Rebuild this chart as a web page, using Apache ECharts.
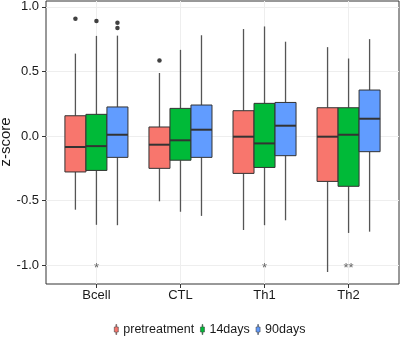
<!DOCTYPE html>
<html>
<head>
<meta charset="utf-8">
<script src="https://cdn.jsdelivr.net/npm/echarts@6/dist/echarts.min.js"></script>
<style>
  html, body { margin: 0; padding: 0; background: #fff; }
  #chart { width: 400px; height: 337px; }
</style>
</head>
<body>
<div id="chart"></div>
<script>
const categories = ["Bcell", "CTL", "Th1", "Th2"];
const groups = ["pretreatment", "14days", "90days"];
const colors = ["#F8766D", "#00BA38", "#619CFF"];

// [lower whisker, Q1, median, Q3, upper whisker] per category
const pretreatment = [
  [-0.57, -0.278, -0.085, 0.157, 0.638],
  [-0.505, -0.25, -0.067, 0.07, 0.488],
  [-0.727, -0.289, -0.005, 0.196, 0.828],
  [-1.052, -0.351, -0.005, 0.219, 0.688]
];
const days14 = [
  [-0.687, -0.266, -0.078, 0.168, 0.775],
  [-0.586, -0.187, -0.033, 0.214, 0.667],
  [-0.69, -0.243, -0.057, 0.253, 0.848],
  [-0.75, -0.389, 0.01, 0.219, 0.6]
];
const days90 = [
  [-0.69, -0.165, 0.01, 0.225, 0.777],
  [-0.618, -0.165, 0.049, 0.24, 0.78],
  [-0.652, -0.152, 0.08, 0.26, 0.73],
  [-0.74, -0.121, 0.134, 0.356, 0.75]
];

// outliers: [category index, value]
const outPretreatment = [[0, 0.907], [1, 0.584]];
const out14days = [[0, 0.89]];
const out90days = [[0, 0.876], [0, 0.837]];

const signif = ["*", "", "*", "**"];
const yTicks = [-1, -0.5, 0, 0.5, 1];

const FONT = "'Liberation Sans', Arial, sans-serif";
const DODGE = 0.25; // each box is a quarter of a category unit
// tiny boxplot glyph for the legend keys
const KEY_ICON = "path://M1.6,0h0.8v2.5h1.6v5h-1.6v2.5h-0.8v-2.5h-1.6v-5h1.6z";

function boxSeries(name, stats, gi) {
  return {
    name: name,
    type: "custom",
    itemStyle: { color: colors[gi] },
    encode: { x: 0, y: [1, 2, 3, 4, 5] },
    data: stats.map((s, i) => [i].concat(s)),
    z: 3,
    renderItem: (params, api) => {
      const x = api.value(0) + (gi - 1) * DODGE;
      const w = api.size([DODGE, 0])[0];
      const cx = api.coord([x, 0])[0];
      const yl = api.coord([x, api.value(1)])[1];
      const y1 = api.coord([x, api.value(2)])[1];
      const ym = api.coord([x, api.value(3)])[1];
      const y3 = api.coord([x, api.value(4)])[1];
      const yh = api.coord([x, api.value(5)])[1];
      const wStyle = { stroke: "#555", lineWidth: 1.3 };
      return {
        type: "group",
        children: [
          { type: "line", shape: { x1: cx, y1: yh, x2: cx, y2: y3 }, style: wStyle },
          { type: "line", shape: { x1: cx, y1: y1, x2: cx, y2: yl }, style: wStyle },
          {
            type: "rect",
            shape: { x: cx - w / 2, y: y3, width: w, height: y1 - y3 },
            style: { fill: colors[gi], stroke: "#333", lineWidth: 1 }
          },
          {
            type: "line",
            shape: { x1: cx - w / 2, y1: ym, x2: cx + w / 2, y2: ym },
            style: { stroke: "#333", lineWidth: 2 }
          }
        ]
      };
    }
  };
}

function outlierSeries(points, gi) {
  return {
    type: "scatter",
    symbolSize: 4.5,
    itemStyle: { color: "#111" },
    z: 4,
    data: points.map(p => [p[0] + (gi - 1) * DODGE, p[1]])
  };
}

const options = {
  animation: false,
  textStyle: { fontFamily: FONT },
  grid: {
    left: 46,
    right: 1,
    top: 1,
    bottom: 53,
    show: true,
    borderColor: "#333",
    borderWidth: 1,
    containLabel: false,
    outerBoundsMode: "none"
  },
  // y axis title
  graphic: [
    {
      type: "text",
      x: 6,
      y: 142,
      rotation: Math.PI / 2,
      style: {
        text: "z-score",
        font: "15px " + FONT,
        fill: "#1a1a1a",
        align: "center",
        verticalAlign: "middle"
      }
    }
  ],
  legend: {
    data: groups,
    left: 109,
    top: 318,
    icon: KEY_ICON,
    itemWidth: 4,
    itemHeight: 10,
    itemGap: 6,
    itemStyle: { borderColor: "#444", borderWidth: 0.6 },
    textStyle: { fontSize: 12.5, color: "#1a1a1a", fontFamily: FONT }
  },
  xAxis: {
    type: "value",
    min: -0.6,
    max: 3.6,
    axisLine: { show: false, onZero: false },
    axisTick: { show: true, length: 4, customValues: [0, 1, 2, 3], lineStyle: { color: "#333" } },
    axisLabel: {
      customValues: [0, 1, 2, 3],
      formatter: v => categories[Math.round(v)] || "",
      color: "#1a1a1a",
      fontSize: 13,
      margin: 5,
      fontFamily: FONT
    },
    splitLine: { show: true, lineStyle: { color: "#eeeeee", width: 1 } }
  },
  yAxis: {
    type: "value",
    min: -1.145,
    max: 1.045,
    axisLine: { show: false, onZero: false },
    axisTick: { show: true, length: 4, customValues: yTicks, lineStyle: { color: "#333" } },
    axisLabel: {
      customValues: yTicks,
      formatter: v => v.toFixed(1),
      color: "#1a1a1a",
      fontSize: 13,
      margin: 7,
      fontFamily: FONT
    },
    splitLine: { show: true, lineStyle: { color: "#eeeeee", width: 1 } }
  },
  series: [
    boxSeries(groups[0], pretreatment, 0),
    boxSeries(groups[1], days14, 1),
    boxSeries(groups[2], days90, 2),
    outlierSeries(outPretreatment, 0),
    outlierSeries(out14days, 1),
    outlierSeries(out90days, 2),
    {
      type: "custom",
      z: 4,
      data: signif.map((s, i) => [i, -1]),
      renderItem: (params, api) => {
        const p = api.coord([api.value(0), api.value(1)]);
        return {
          type: "text",
          style: {
            text: signif[params.dataIndex],
            x: p[0],
            y: p[1] + 3,
            fill: "#666",
            font: "13px " + FONT,
            align: "center",
            verticalAlign: "middle"
          }
        };
      }
    }
  ]
};

const chart = echarts.init(document.getElementById("chart"));
chart.setOption(options);
</script>
</body>
</html>
